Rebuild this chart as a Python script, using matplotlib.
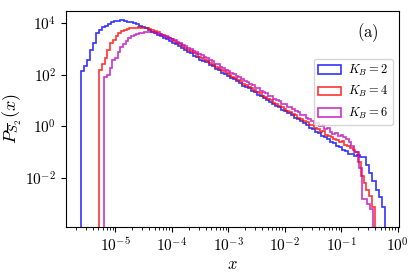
import numpy as np
import matplotlib
matplotlib.use("Agg")
import matplotlib.pyplot as plt
from matplotlib.ticker import NullLocator

plt.rcParams["mathtext.fontset"] = "cm"
plt.rcParams["font.family"] = "serif"
plt.rcParams["font.serif"] = ["cmr10", "DejaVu Serif"]
plt.rcParams["axes.formatter.use_mathtext"] = True

# log10 of the x range covered by each histogram
range_b2 = (-5.61, -0.23)
range_b4 = (-5.29, -0.407)
range_b6 = (-5.20, -0.44)

# log10 of the bin heights
logp_b2 = [
    2.13, 2.35, 2.58, 2.96, 3.22, 3.60, 3.73, 3.86, 3.90, 3.97,
    4.03, 4.06, 4.09, 4.10, 4.08, 4.05, 4.02, 3.99, 3.95, 3.90,
    3.85, 3.79, 3.72, 3.66, 3.60, 3.54, 3.48, 3.43, 3.37, 3.31,
    3.24, 3.17, 3.11, 3.02, 2.96, 2.88, 2.82, 2.74, 2.68, 2.58,
    2.53, 2.47, 2.38, 2.32, 2.22, 2.17, 2.08, 2.03, 1.95, 1.88,
    1.83, 1.74, 1.68, 1.58, 1.53, 1.47, 1.36, 1.31, 1.22, 1.17,
    1.10, 1.01, 0.95, 0.86, 0.80, 0.73, 0.63, 0.58, 0.50, 0.44,
    0.34, 0.28, 0.19, 0.12, 0.05, -0.06, -0.10, -0.22, -0.25, -0.36,
    -0.42, -0.50, -0.60, -0.65, -0.76, -0.80, -0.92, -0.97, -1.05, -1.08,
    -1.15, -1.12, -1.18, -1.20, -1.50, -1.80, -2.10, -2.45, -2.75, -3.10,
]
logp_b4 = [
    2.19, 2.40, 2.64, 2.96, 3.22, 3.35, 3.50, 3.60, 3.67, 3.72,
    3.76, 3.79, 3.81, 3.82, 3.83, 3.82, 3.81, 3.79, 3.76, 3.72,
    3.68, 3.64, 3.59, 3.54, 3.48, 3.42, 3.37, 3.30, 3.22, 3.17,
    3.10, 3.03, 2.97, 2.90, 2.84, 2.78, 2.70, 2.65, 2.57, 2.52,
    2.44, 2.39, 2.31, 2.26, 2.18, 2.13, 2.05, 2.00, 1.92, 1.88,
    1.79, 1.75, 1.65, 1.60, 1.52, 1.48, 1.40, 1.33, 1.28, 1.18,
    1.15, 1.06, 1.03, 0.92, 0.88, 0.80, 0.75, 0.66, 0.60, 0.55,
    0.47, 0.44, 0.33, 0.30, 0.20, 0.18, 0.07, 0.04, -0.08, -0.10,
    -0.20, -0.18, -0.32, -0.36, -0.42, -0.50, -0.52, -0.62, -0.58, -0.72,
    -0.75, -0.85, -0.92, -1.00, -1.38, -1.90, -2.20, -2.45, -2.70, -3.10,
]
logp_b6 = [
    1.92, 2.00, 2.27, 2.58, 2.65, 2.88, 3.08, 3.20, 3.30, 3.42,
    3.50, 3.54, 3.57, 3.60, 3.62, 3.63, 3.64, 3.64, 3.63, 3.61,
    3.58, 3.54, 3.50, 3.46, 3.42, 3.37, 3.33, 3.27, 3.22, 3.15,
    3.11, 3.04, 2.99, 2.92, 2.88, 2.80, 2.76, 2.67, 2.64, 2.55,
    2.51, 2.42, 2.40, 2.30, 2.26, 2.18, 2.15, 2.05, 2.03, 1.93,
    1.90, 1.83, 1.77, 1.72, 1.63, 1.60, 1.50, 1.49, 1.38, 1.34,
    1.28, 1.19, 1.18, 1.06, 1.03, 0.98, 0.88, 0.87, 0.75, 0.73,
    0.66, 0.58, 0.55, 0.44, 0.44, 0.32, 0.30, 0.21, 0.12, 0.14,
    0.02, 0.05, -0.10, -0.06, -0.20, -0.28, -0.25, -0.38, -0.35, -0.42,
    -0.48, -0.60, -0.75, -0.98, -1.00, -1.60, -2.80, -2.82, -3.00, -3.19,
]
yticks = [1e-2, 1e0, 1e2, 1e4]

series = [
    (range_b2, logp_b2, "b", r"$K_B=2$"),
    (range_b4, logp_b4, "r", r"$K_B=4$"),
    (range_b6, logp_b6, "m", r"$K_B=6$"),
]

fig = plt.figure(figsize=(4.15, 2.74), dpi=100)
ax = fig.add_axes([0.159, 0.172, 0.802, 0.788])

for rng, logp, col, lab in series:
    edges = np.logspace(rng[0], rng[1], len(logp) + 1)
    centers = np.sqrt(edges[:-1] * edges[1:])
    ax.hist(centers, bins=edges, weights=10.0 ** np.array(logp),
            histtype="step", color=col, lw=1.2, alpha=0.8, label=lab)

ax.set_xscale("log")
ax.set_yscale("log")
ax.set_xlim(1.33e-6, 1.05)
ax.set_ylim(1.3e-4, 2.9e4)
ax.set_yticks(yticks)
ax.yaxis.set_minor_locator(NullLocator())
ax.tick_params(labelsize=11)

ax.set_xlabel(r"$x$", fontsize=12, labelpad=1)
ax.set_ylabel(r"$P_{\overline{S}_2}(x)$", fontsize=13, labelpad=1)
ax.text(0.907, 0.898, r"$\mathrm{(a)}$", transform=ax.transAxes,
        ha="center", va="center", fontsize=12)
ax.legend(loc="center right", bbox_to_anchor=(1.0, 0.625), fontsize=9,
          handlelength=1.8, handletextpad=0.6, borderpad=0.35)

fig.savefig("out.png", dpi=100)
